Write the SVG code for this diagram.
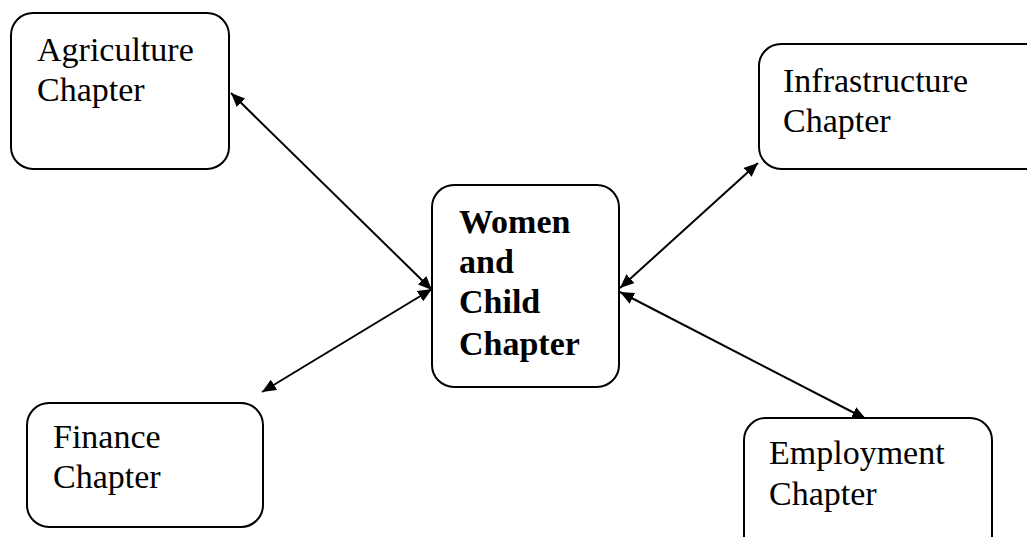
<svg xmlns="http://www.w3.org/2000/svg" width="1027" height="537" viewBox="0 0 1027 537">
<defs>
<style>
.box{fill:#fff;stroke:#000;stroke-width:2}
.t{font-family:"Liberation Serif","Times New Roman",serif;font-size:34px;fill:#000}
.b{font-weight:bold}
.c{stroke:#000;stroke-width:2;fill:none;marker-start:url(#ah);marker-end:url(#ah)}
</style>
<marker id="ah" viewBox="0 0 14 12" refX="14" refY="6" markerWidth="14" markerHeight="12" markerUnits="userSpaceOnUse" orient="auto-start-reverse">
<path d="M0,0 L14,6 L0,12 Z" fill="#000"/>
</marker>
</defs>
<g id="connectors">
<line class="c" x1="231" y1="93" x2="432" y2="290"/>
<line class="c" x1="262" y1="392" x2="432" y2="289"/>
<line class="c" x1="620" y1="288" x2="758" y2="163"/>
<line class="c" x1="620" y1="292" x2="866" y2="419"/>
</g>
<g id="agriculture">
<rect class="box" x="11" y="13" width="218" height="156" rx="22"/>
<text class="t" x="37" y="61">Agriculture</text>
<text class="t" x="37" y="101">Chapter</text>
</g>
<g id="women">
<rect class="box" x="432" y="185" width="187" height="202" rx="22"/>
<text class="t b" x="459" y="233">Women</text>
<text class="t b" x="459" y="273">and</text>
<text class="t b" x="459" y="313">Child</text>
<text class="t b" x="459" y="355">Chapter</text>
</g>
<g id="infrastructure">
<rect class="box" x="759" y="44" width="290" height="125" rx="22"/>
<text class="t" x="783" y="92">Infrastructure</text>
<text class="t" x="783" y="132">Chapter</text>
</g>
<g id="finance">
<rect class="box" x="27" y="403" width="236" height="124" rx="22"/>
<text class="t" x="53" y="448">Finance</text>
<text class="t" x="53" y="488">Chapter</text>
</g>
<g id="employment">
<rect class="box" x="744" y="418" width="248" height="140" rx="22"/>
<text class="t" x="769" y="464">Employment</text>
<text class="t" x="769" y="505">Chapter</text>
</g>
</svg>
